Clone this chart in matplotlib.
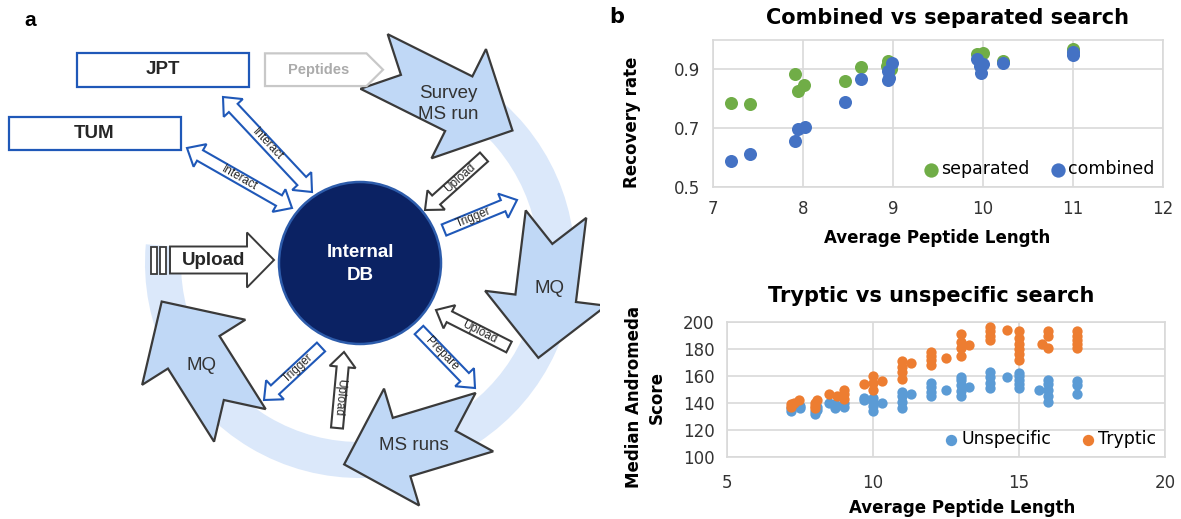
import numpy as np
import matplotlib
matplotlib.use('Agg')
import matplotlib.pyplot as plt
from matplotlib.patches import Polygon, Circle, Wedge, Rectangle

plt.rcParams['font.family'] = ['Liberation Sans', 'DejaVu Sans']

# ---------------- data (panel b) ----------------
# combined vs separated search
sep_len = [7.2, 7.41, 7.91, 7.95, 8.01, 8.47, 8.64, 8.93, 8.95, 8.96, 8.98, 9.93, 10.0, 10.22, 11.0]
sep_rate = [0.785, 0.781, 0.885, 0.826, 0.848, 0.86, 0.908, 0.91, 0.93, 0.92, 0.90, 0.953, 0.957, 0.93, 0.968]
comb_len = [7.2, 7.41, 7.91, 7.95, 8.02, 8.47, 8.64, 8.94, 8.95, 8.96, 8.99, 9.93, 9.97, 10.0, 9.98, 10.22, 11.0, 11.0]
comb_rate = [0.589, 0.611, 0.657, 0.697, 0.703, 0.789, 0.866, 0.895, 0.865, 0.872, 0.923, 0.936, 0.913,
             0.918, 0.889, 0.923, 0.96, 0.948]

# tryptic vs unspecific search (length, scores at that length)
tryp_groups = [(7.2, [137, 139]), (7.3, [140]), (7.45, [142]),
               (8.0, [136, 138, 140]), (8.07, [142]),
               (8.5, [147]), (8.75, [145]), (9.0, [143, 147, 150]),
               (9.7, [154]), (10.0, [150, 155, 160]), (10.3, [156]),
               (11.0, [158, 163, 167, 171]), (11.3, [170]),
               (12.0, [168, 172, 175, 178]), (12.5, [173]),
               (13.0, [175, 181, 185, 191]), (13.3, [183]),
               (14.0, [187, 190, 193, 196]), (14.6, [194]),
               (15.0, [172, 176, 180, 184, 188, 193]),
               (15.8, [184]), (16.0, [181, 190, 193]),
               (17.0, [181, 184, 187, 190, 193])]
unspec_groups = [(7.2, [134, 136]), (7.5, [136, 138]),
                 (8.0, [132, 134]), (8.07, [135, 137]),
                 (8.5, [140]), (8.7, [136, 139]), (9.0, [137, 140]),
                 (9.7, [142, 144]), (10.0, [134, 138, 141, 144]), (10.3, [140]),
                 (11.0, [136, 141, 145, 148]), (11.3, [147]),
                 (12.0, [145, 148, 152, 155]), (12.5, [150]),
                 (13.0, [145, 149, 153, 157, 159]), (13.3, [152]),
                 (14.0, [151, 155, 159, 163]), (14.6, [159]),
                 (15.0, [151, 154, 157, 160, 162]),
                 (15.7, [150]), (16.0, [141, 145, 150, 154, 157]),
                 (17.0, [147, 153, 156])]

tryp_len = [x for x, ys in tryp_groups for _ in ys]
tryp_score = [y for _, ys in tryp_groups for y in ys]
unspec_len = [x for x, ys in unspec_groups for _ in ys]
unspec_score = [y for _, ys in unspec_groups for y in ys]

# ---------------- figure ----------------
W, H = 1181, 519
fig = plt.figure(figsize=(W / 100, H / 100), dpi=100)


def fx(px):
    return px / W


def fy(py):
    return 1 - py / H


# ======== panel a : workflow diagram (axes units = pixels) ========
ax0 = fig.add_axes([0, 0, 600 / W, 1])
ax0.set_xlim(0, 600)
ax0.set_ylim(H, 0)
ax0.axis('off')

BLUE = '#1f58b8'
GRAY = '#3a3a3a'
RING = '#dbe8fa'
BIGFILL = '#c0d8f6'


def arrow_poly(p0, p1, bw, hw, hl, notch=0.0, double=False):
    p0 = np.asarray(p0, float)
    p1 = np.asarray(p1, float)
    d = p1 - p0
    u = d / np.hypot(*d)
    n = np.array([-u[1], u[0]])
    if double:
        pts = [p0, p0 + u * hl + n * hw / 2, p0 + u * hl + n * bw / 2]
    else:
        pts = [p0 + n * bw / 2]
    pts += [p1 - u * hl + n * bw / 2, p1 - u * hl + n * hw / 2, p1,
            p1 - u * hl - n * hw / 2, p1 - u * hl - n * bw / 2]
    if double:
        pts += [p0 + u * hl - n * bw / 2, p0 + u * hl - n * hw / 2]
    else:
        pts += [p0 - n * bw / 2]
        if notch:
            pts += [p0 + u * notch]
    return np.array(pts)


# ring
cx, cy = 360, 263
ax0.add_patch(Wedge((cx, cy), 215, -72, 185, width=36, fc=RING, ec='none', zorder=1))


def ring_pt(a, r=202):
    a = np.radians(a)
    return np.array([cx + r * np.cos(a), cy - r * np.sin(a)])


# big cycle arrows: label, tail angle, tip angle, text offset
big_arrows = [("Survey\nMS run", 86, 41, (2, 7)),
              ("MQ", 14, -28, (3, 0)),
              ("MS runs", -52, -94.5, (2, 1)),
              ("MQ", -126.5, -169, (2, 5))]
for lab, a0, a1, off in big_arrows:
    p0, p1 = ring_pt(a0), ring_pt(a1)
    ax0.add_patch(Polygon(arrow_poly(p0, p1, 61, 122, 60, notch=30), closed=True,
                          fc=BIGFILL, ec=GRAY, lw=1.6, zorder=2))
    tp = p0 + 0.52 * (p1 - p0)
    ax0.text(tp[0] + off[0], tp[1] + off[1], lab, ha='center', va='center',
             fontsize=13.5, color='#333333', linespacing=1.3, zorder=3)

# internal DB
ax0.add_patch(Circle((cx, cy), 81, fc='#0b2263', ec='#2d5cab', lw=1.8, zorder=4))
ax0.text(cx, cy + 1, "Internal\nDB", ha='center', va='center', fontsize=13.5,
         fontweight='bold', color='white', linespacing=1.4, zorder=5)

# boxes
ax0.add_patch(Rectangle((77, 53), 172, 33.5, fc='white', ec=BLUE, lw=1.6, zorder=3))
ax0.text(163, 70, "JPT", ha='center', va='center', fontsize=13.5, fontweight='bold', color='#262626')
ax0.add_patch(Rectangle((8.5, 117), 172, 33, fc='white', ec=BLUE, lw=1.6, zorder=3))
ax0.text(94.5, 133.5, "TUM", ha='center', va='center', fontsize=13.5, fontweight='bold', color='#262626')

# peptides arrow
ax0.add_patch(Polygon(arrow_poly((265, 69.7), (383, 69.7), 32.7, 32.7, 16.5), closed=True,
                      fc='white', ec='#c8c8c8', lw=1.6, zorder=3))
ax0.text(319, 70, "Peptides", ha='center', va='center', fontsize=10.5, fontweight='bold', color='#ababab')

# upload (left)
ax0.add_patch(Polygon(arrow_poly((170, 260), (274, 260), 27, 55, 27), closed=True,
                      fc='white', ec=GRAY, lw=1.4, zorder=3))
for bx in (150.7, 160.2):
    ax0.add_patch(Rectangle((bx, 246.5), 6.2, 27, fc='white', ec=GRAY, lw=1.3, zorder=3))
ax0.text(214, 260.5, "Upload", ha='center', va='center', fontsize=13.5, fontweight='bold', color='#262626', zorder=4)

# small arrows: tail, tip, double headed, colour, label, flip text
small_arrows = [((223, 97), (312, 192), True, BLUE, "Interact", False),
                ((187, 148), (292, 208), True, BLUE, "Interact", False),
                ((484, 157), (425, 210), False, GRAY, "Upload", False),
                ((444, 230), (517, 200), False, BLUE, "Trigger", False),
                ((509, 347), (436, 310), False, GRAY, "Upload", False),
                ((419, 330), (475, 388), False, BLUE, "Prepare", False),
                ((337, 428), (344, 352), False, GRAY, "Upload", True),
                ((321, 347), (264, 400), False, BLUE, "Trigger", False)]
for p0, p1, dbl, col, lab, flip in small_arrows:
    p0 = np.asarray(p0, float)
    p1 = np.asarray(p1, float)
    hl = 15
    ax0.add_patch(Polygon(arrow_poly(p0, p1, 12, 26, hl, double=dbl), closed=True,
                          fc='white', ec=col, lw=1.5, zorder=6))
    d = p1 - p0
    u = d / np.hypot(*d)
    mid = (p0 + p1) / 2 if dbl else (p0 + p1 - u * hl) / 2
    rot = np.degrees(np.arctan2(-d[1], d[0]))
    if rot > 90:
        rot -= 180
    elif rot < -90:
        rot += 180
    if flip:
        rot -= 180
    ax0.text(mid[0], mid[1], lab, ha='center', va='center', rotation=rot,
             rotation_mode='anchor', fontsize=8.5, color='#262626', zorder=7)

fig.text(fx(30), fy(20), "a", ha='center', va='center', fontsize=15, fontweight='bold')

# ======== panel b : scatter charts ========
RFONT = ['DejaVu Sans']
GRID = '#d9d9d9'


def excel_style(ax):
    ax.grid(True, color=GRID, lw=1.2)
    ax.set_axisbelow(True)
    for s in ax.spines.values():
        s.set_color(GRID)
        s.set_linewidth(1.2)
    ax.tick_params(length=0, labelsize=12, labelcolor='#333333', pad=9)
    for t in ax.get_xticklabels() + ax.get_yticklabels():
        t.set_family(RFONT)


ax1 = fig.add_axes([fx(713), fy(187), 450 / W, 147 / H])
ax1.scatter(sep_len, sep_rate, s=88, color='#70ad47', label='separated', zorder=3, lw=0)
ax1.scatter(comb_len, comb_rate, s=88, color='#4472c4', label='combined', zorder=3, lw=0)
ax1.set_xlim(7, 12)
ax1.set_ylim(0.5, 1.0)
ax1.set_xticks([7, 8, 9, 10, 11, 12])
ax1.set_yticks([0.5, 0.7, 0.9])
ax1.set_yticklabels(['0.5', '0.7', '0.9'])
excel_style(ax1)
ax1.legend(loc='lower right', ncol=2, frameon=False, handletextpad=0.0, columnspacing=1.0,
           borderaxespad=0.1, handlelength=1.2, markerscale=1.1, prop={'family': RFONT, 'size': 12.5})

ax2 = fig.add_axes([fx(727), fy(457), 438 / W, 135 / H])
ax2.scatter(unspec_len, unspec_score, s=55, color='#5b9bd5', label='Unspecific', zorder=3, lw=0)
ax2.scatter(tryp_len, tryp_score, s=55, color='#ed7d31', label='Tryptic', zorder=3, lw=0)
ax2.set_xlim(5, 20)
ax2.set_ylim(100, 200)
ax2.set_xticks([5, 10, 15, 20])
ax2.set_yticks(range(100, 201, 20))
excel_style(ax2)
ax2.tick_params(axis='x', pad=12)
ax2.legend(loc='lower right', ncol=2, frameon=False, handletextpad=0.0, columnspacing=1.5,
           borderaxespad=0.1, handlelength=1.2, markerscale=1.1, prop={'family': RFONT, 'size': 12.5})

bold = dict(family=RFONT, fontweight='bold', color='black')
fig.text(fx(617), fy(17), "b", ha='center', va='center', fontsize=15, **bold)
fig.text(fx(948), fy(17.5), "Combined vs separated search", ha='center', va='center', fontsize=15, **bold)
fig.text(fx(937), fy(238), "Average Peptide Length", ha='center', va='center', fontsize=12, **bold)
fig.text(fx(632), fy(122), "Recovery rate", ha='center', va='center', rotation=90, fontsize=12, **bold)
fig.text(fx(931), fy(295.5), "Tryptic vs unspecific search", ha='center', va='center', fontsize=15, **bold)
fig.text(fx(962), fy(508), "Average Peptide Length", ha='center', va='center', fontsize=12, **bold)
fig.text(fx(645), fy(397), "Median Andromeda\nScore", ha='center', va='center', rotation=90,
         fontsize=12, linespacing=1.35, **bold)

fig.savefig('out.png', dpi=100)
